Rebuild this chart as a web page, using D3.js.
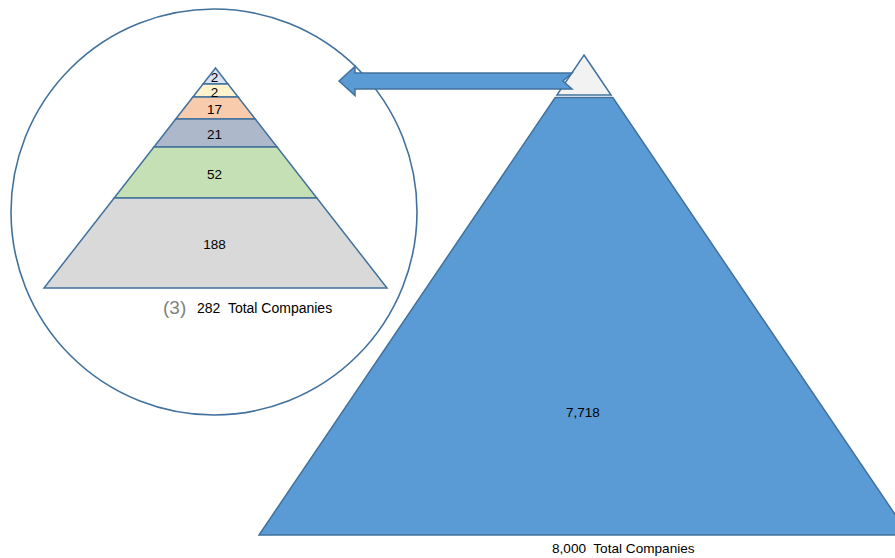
<!DOCTYPE html>
<html>
<head>
<meta charset="utf-8">
<script src="https://cdn.jsdelivr.net/npm/d3@7"></script>
<style>
  body { margin: 0; background: #fff; }
  svg text { font-family: "Liberation Sans", Arial, sans-serif; white-space: pre; }
</style>
</head>
<body>
<div id="chart"></div>
<script>
// data: detail pyramid (top tier down) and overview pyramid (top tier down)
var detailCounts = [2, 2, 17, 21, 52, 188];
var overviewCounts = [282, 7718];
var footnoteMark = "(3)";
var totalLabel = "Total Companies";

// styles
var detailColors = ["#dae3f3", "#fff2cc", "#f8cbad", "#adb9ca", "#c5e0b4", "#d9d9d9"];
var overviewColors = ["#f2f2f2", "#5b9bd5"];
var outline = "#41719c";

// svg wrapper
var svgWidth = 895;
var svgHeight = 558;

var svg = d3.select("#chart")
    .append("svg")
    .attr("width", svgWidth)
    .attr("height", svgHeight);

var fmt = d3.format(",");

// ---- zoom circle
var circle = { cx: 214, cy: 212, r: 203 };
svg.append("circle")
    .attr("cx", circle.cx)
    .attr("cy", circle.cy)
    .attr("r", circle.r)
    .attr("fill", "none")
    .attr("stroke", outline)
    .attr("stroke-width", 1.6);

// ---- detail pyramid
var detail = { cx: 215.5, apex: 68, base: 288, halfBase: 171.5 };
// tier edges (layout only), one more than tiers
var detailEdges = [68, 84, 97, 119, 147, 198, 288];

var yDetail = d3.scaleLinear()
    .domain(d3.range(detailEdges.length))
    .range(detailEdges);

var wDetail = d3.scaleLinear()
    .domain([detail.apex, detail.base])
    .range([0, detail.halfBase]);

function tierPoints(cx, top, bottom, wScale) {
  return [
    [cx - wScale(top), top],
    [cx + wScale(top), top],
    [cx + wScale(bottom), bottom],
    [cx - wScale(bottom), bottom]
  ];
}

var detailGroup = svg.append("g");

detailGroup.selectAll("polygon")
    .data(detailCounts)
    .enter()
    .append("polygon")
    .attr("points", (d, i) => tierPoints(detail.cx, yDetail(i), yDetail(i + 1), wDetail).join(" "))
    .attr("fill", (d, i) => detailColors[i])
    .attr("stroke", outline)
    .attr("stroke-width", 1.5)
    .attr("stroke-linejoin", "miter");

detailGroup.selectAll("text")
    .data(detailCounts)
    .enter()
    .append("text")
    .attr("x", detail.cx - 1)
    .attr("y", (d, i) => (yDetail(i) + yDetail(i + 1)) / 2 + 1.5)
    .attr("dy", "0.35em")
    .attr("text-anchor", "middle")
    .style("font-size", "13.5px")
    .attr("fill", "#000")
    .text(d => fmt(d));

// caption under detail pyramid
svg.append("text")
    .attr("x", 163)
    .attr("y", 314)
    .style("font-size", "19px")
    .attr("fill", "#7f7f7f")
    .text(footnoteMark);

svg.append("text")
    .attr("x", 197)
    .attr("y", 313)
    .style("font-size", "14px")
    .attr("fill", "#000")
    .text(fmt(d3.sum(detailCounts)) + "  " + totalLabel);

// ---- overview pyramid
var overview = { cx: 584, apex: 55, base: 535, halfBase: 325, gap: 2.5 };
var overviewEdges = [55, 95, 535];

var yOverview = d3.scaleLinear()
    .domain(d3.range(overviewEdges.length))
    .range(overviewEdges);

var wOverview = d3.scaleLinear()
    .domain([overview.apex, overview.base])
    .range([0, overview.halfBase]);

var overviewGroup = svg.append("g");

overviewGroup.selectAll("polygon")
    .data(overviewCounts)
    .enter()
    .append("polygon")
    .attr("points", (d, i) => tierPoints(overview.cx,
        yOverview(i) + (i > 0 ? overview.gap : 0), yOverview(i + 1), wOverview).join(" "))
    .attr("fill", (d, i) => overviewColors[i])
    .attr("stroke", outline)
    .attr("stroke-width", 1.5);

// only the lower tier is labelled, the top one is the zoomed detail
overviewGroup.selectAll("text")
    .data(overviewCounts.slice(1))
    .enter()
    .append("text")
    .attr("x", overview.cx - 1)
    .attr("y", (d, i) => yOverview(i + 1) + 0.72 * (yOverview(i + 2) - yOverview(i + 1)))
    .attr("dy", "0.35em")
    .attr("text-anchor", "middle")
    .style("font-size", "13.5px")
    .attr("fill", "#000")
    .text(d => fmt(d));

svg.append("text")
    .attr("x", 552)
    .attr("y", 553)
    .style("font-size", "13.6px")
    .attr("fill", "#000")
    .text(fmt(d3.sum(overviewCounts)) + "  " + totalLabel);

// ---- arrow from top tier into the circle (notched tail)
var arrow = { tip: 339, tail: 572, cy: 81, body: 8, head: 14.5, headLen: 16, notch: 9 };
var arrowPts = [
  [arrow.tip, arrow.cy],
  [arrow.tip + arrow.headLen, arrow.cy - arrow.head],
  [arrow.tip + arrow.headLen, arrow.cy - arrow.body],
  [arrow.tail, arrow.cy - arrow.body],
  [arrow.tail - arrow.notch, arrow.cy],
  [arrow.tail, arrow.cy + arrow.body],
  [arrow.tip + arrow.headLen, arrow.cy + arrow.body],
  [arrow.tip + arrow.headLen, arrow.cy + arrow.head]
];

svg.append("polygon")
    .attr("points", arrowPts.join(" "))
    .attr("fill", "#5b9bd5")
    .attr("stroke", outline)
    .attr("stroke-width", 1.5)
    .attr("stroke-linejoin", "miter");
</script>
</body>
</html>
